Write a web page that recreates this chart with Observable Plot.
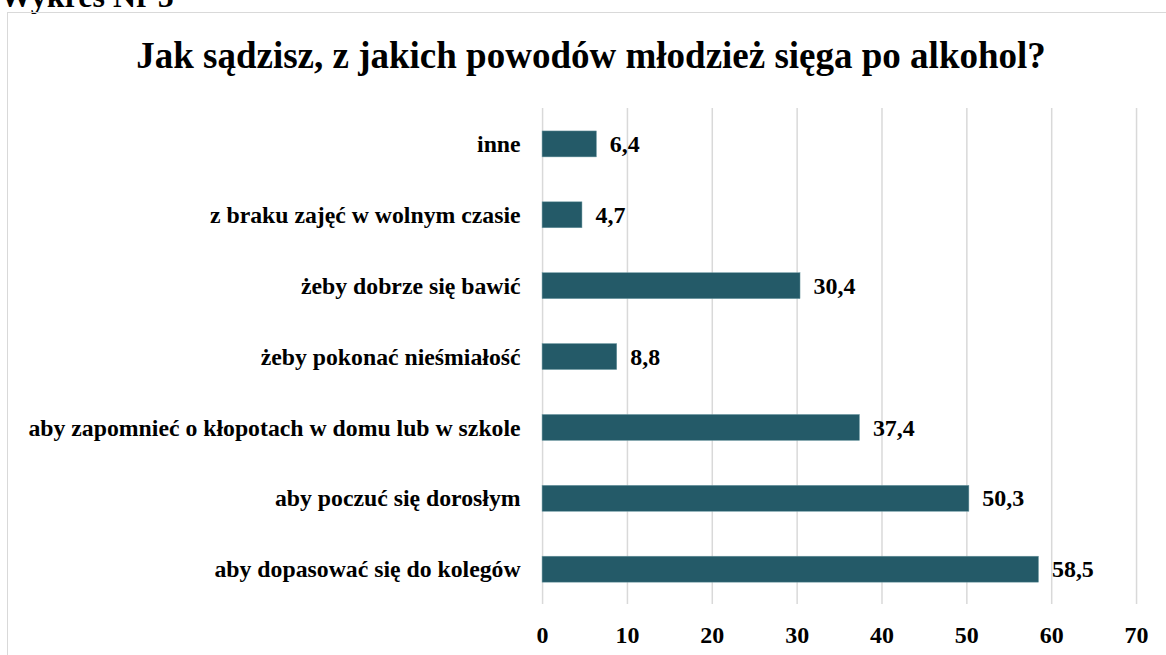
<!DOCTYPE html>
<html>
<head>
<meta charset="utf-8">
<script src="https://cdn.jsdelivr.net/npm/d3@7"></script>
<script src="https://cdn.jsdelivr.net/npm/@observablehq/plot@0.6"></script>
<style>
  html, body { margin: 0; padding: 0; width: 1166px; height: 655px; overflow: hidden; background: #fff; font-family: "Liberation Serif", "Times New Roman", serif; }
  #pre { position: absolute; left: 0; top: -20px; font-size: 32px; line-height: 32px; font-weight: bold; color: #000; white-space: nowrap; }
  #box { position: absolute; left: 7px; top: 12px; width: 1200px; height: 700px; border: 1.5px solid #d9d9d9; box-sizing: border-box; }
  #title { position: absolute; left: 8px; top: 37px; width: 1166px; text-align: center; font-size: 37px; line-height: 37px; font-weight: bold; color: #000; white-space: nowrap; }
  #chart { position: absolute; left: 8px; top: 95px; }
  #chart svg, #chart svg text { font-family: "Liberation Serif", "Times New Roman", serif !important; font-weight: bold; }
</style>
</head>
<body>
<div id="pre">Wykres Nr 5</div>
<div id="box"></div>
<div id="title">Jak sądzisz, z jakich powodów młodzież sięga po alkohol?</div>
<div id="chart"></div>
<script>
const categories = [
  "inne",
  "z braku zajęć w wolnym czasie",
  "żeby dobrze się bawić",
  "żeby pokonać nieśmiałość",
  "aby zapomnieć o kłopotach w domu lub w szkole",
  "aby poczuć się dorosłym",
  "aby dopasować się do kolegów"
];
const values = [6.4, 4.7, 30.4, 8.8, 37.4, 50.3, 58.5];
const valueLabels = ["6,4", "4,7", "30,4", "8,8", "37,4", "50,3", "58,5"];
const xTicks = [0, 10, 20, 30, 40, 50, 60, 70];

const data = categories.map((c, i) => ({ cat: c, v: values[i], lab: valueLabels[i] }));

const chart = Plot.plot({
  width: 1160,
  height: 570,
  marginLeft: 535,
  marginRight: 30,
  marginTop: 13,
  marginBottom: 60,
  style: { background: "transparent" },
  x: { domain: [0, 70], ticks: xTicks, label: null },
  y: { domain: categories, label: null, paddingInner: 0.64, paddingOuter: 0.32 },
  marks: [
    Plot.ruleX(xTicks, { stroke: "#d9d9d9", strokeWidth: 1.5 }),
    Plot.barX(data, { y: "cat", x: "v", fill: "#245a68", stroke: "#6f9aa3", strokeWidth: 0.5 }),
    Plot.text(data, { y: "cat", x: "v", text: "lab", dx: 13, textAnchor: "start", fontSize: 24, fontWeight: "bold", fill: "#000" }),
    Plot.axisX({ ticks: xTicks, tickSize: 0, tickPadding: 21, fontSize: 24, fontWeight: "bold", tickFormat: d => String(d), label: null }),
    Plot.axisY({ tickSize: 0, tickPadding: 22, fontSize: 23.8, fontWeight: "bold", label: null })
  ]
});
chart.querySelectorAll("text").forEach(t => t.setAttribute("fill", "#000"));
document.getElementById("chart").appendChild(chart);
</script>
</body>
</html>
